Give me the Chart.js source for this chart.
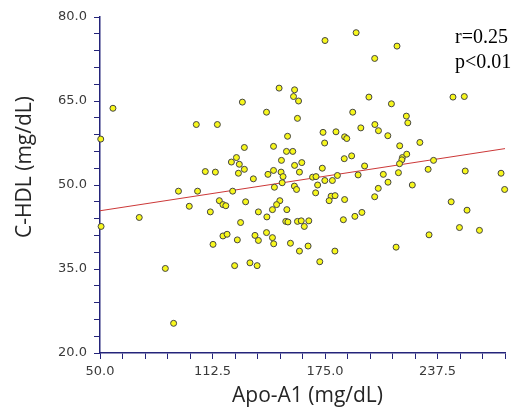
<!DOCTYPE html>
<html>
<head>
<meta charset="utf-8">
<script src="https://cdn.jsdelivr.net/npm/chart.js"></script>
<style>body{margin:0;background:#fff}</style>
</head>
<body>
<canvas id="myChart" width="517" height="415"></canvas>
<script>
// Apo-A1 vs C-HDL
const apoA1 = [57.2, 50.4, 103.5, 115.2, 129.1, 130.2, 108.5, 114.1, 123.0, 125.8,
  127.4, 130.2, 126.9, 149.5, 158.1, 157.5, 160.3, 142.5, 159.7, 154.2,
  146.4, 153.6, 157.1, 150.8, 158.1, 162.1, 146.4, 143.3, 150.6, 151.7,
  160.8, 175.0, 192.3, 215.0, 202.6, 199.4, 211.9, 246.1, 252.4, 190.4,
  220.2, 221.0, 194.9, 202.7, 204.7, 209.9, 173.9, 181.1, 174.8, 185.9,
  187.1, 216.5, 227.7, 185.7, 189.8, 173.5, 197.0, 218.0, 220.4, 217.7,
  216.4, 235.3, 232.3, 215.8, 207.4, 193.4, 181.9, 168.1, 170.0, 252.9,
  272.8, 135.2, 174.9, 179.1, 151.2, 146.9, 158.0, 159.2, 170.9, 169.8,
  204.6, 210.0, 223.5, 274.8, 93.6, 104.2, 123.7, 99.6,
  178.4, 180.6, 177.3, 185.9, 202.6, 245.1, 149.9, 148.1, 145.8, 153.8,
  253.9, 116.3, 118.3, 119.9, 130.9, 111.3, 138.0, 71.8, 50.6, 86.3, 90.9,
  142.7, 128.1, 153.2, 154.4, 159.7, 161.8, 163.5, 166.0, 185.2, 191.6,
  195.5, 118.3, 120.6, 126.3, 112.8, 136.1, 138.0, 142.5, 145.8, 146.5,
  155.8, 160.8, 165.6, 180.5, 172.1, 214.5, 232.8, 249.7, 260.8, 124.8, 133.3, 137.3]
const cHdl = [63.7, 58.2, 60.8, 60.8, 64.8, 56.7, 52.4, 52.3, 54.1, 54.9,
  53.7, 52.8, 52.1, 67.3, 67.0, 65.8, 65.0, 63.0, 61.9, 58.7,
  56.9, 56.0, 56.0, 54.4, 53.5, 54.0, 52.6, 51.9, 52.3, 51.5,
  52.3, 75.8, 77.2, 74.8, 72.6, 65.7, 64.5, 65.7, 65.8, 63.0,
  62.3, 61.1, 60.2, 60.8, 59.7, 58.8, 59.4, 59.5, 57.5, 58.6,
  58.3, 57.0, 57.6, 54.7, 55.2, 53.0, 53.4, 54.9, 55.5, 54.5,
  53.8, 54.4, 52.8, 52.2, 51.9, 51.8, 51.7, 51.4, 51.5, 52.5,
  52.1, 51.1, 50.8, 50.8, 50.4, 49.6, 49.8, 49.2, 50.0, 48.6,
  49.4, 50.5, 50.0, 49.2, 48.9, 48.9, 48.9, 46.2,
  48.0, 48.1, 47.2, 47.4, 47.9, 47.0, 47.2, 46.5, 45.6, 45.6,
  45.5, 47.2, 46.5, 46.3, 47.0, 45.2, 45.2, 44.2, 42.6, 35.1, 25.3,
  44.3, 43.3, 43.5, 43.4, 43.5, 43.6, 42.6, 43.6, 43.8, 44.4,
  45.1, 40.9, 41.2, 40.2, 39.4, 41.0, 40.1, 41.5, 40.6, 39.5,
  39.6, 38.2, 39.1, 38.2, 36.3, 38.9, 41.1, 42.4, 41.9, 35.6, 36.1, 35.6]

// regression line ends
const fitX = [50, 275]
const fitY = [45.4, 56.5]

// labelled ticks
const xLabels = [50, 112.5, 175, 237.5]
const yLabels = [20, 35, 50, 65, 80]

const statLines = ['r=0.25', 'p<0.01']

const navy = '#24247a'

const textPlugin = {
  id: 'textPlugin',
  afterDraw(chart) {
    const ctx = chart.ctx
    const area = chart.chartArea
    ctx.save()
    ctx.fillStyle = '#262626'
    ctx.font = '21px "Open Sans"'
    ctx.textAlign = 'center'
    ctx.textBaseline = 'middle'
    ctx.fillText('Apo-A1 (mg/dL)', (area.left + area.right) / 2 + 5, 396)
    ctx.save()
    ctx.translate(25, (area.top + area.bottom) / 2 - 18)
    ctx.rotate(-Math.PI / 2)
    ctx.fillText('C-HDL (mg/dL)', 0, 0)
    ctx.restore()
    ctx.fillStyle = '#000'
    ctx.font = '20px "Liberation Serif"'
    ctx.textAlign = 'left'
    ctx.textBaseline = 'alphabetic'
    for (let i = 0; i < statLines.length; i++) {
      ctx.fillText(statLines[i], 455, 43 + i * 25)
    }
    ctx.restore()
  }
}

const points = apoA1.map((x, i) => ({x: x, y: cHdl[i]}))
const fitPoints = fitX.map((x, i) => ({x: x, y: fitY[i]}))

new Chart(document.getElementById('myChart'), {
  type: 'scatter',
  data: {
    datasets: [{
      data: points,
      backgroundColor: '#f7f71c',
      borderColor: '#444444',
      borderWidth: 1,
      pointRadius: 3,
      clip: false,
      order: 1
    }, {
      type: 'line',
      data: fitPoints,
      borderColor: '#cc3838',
      borderWidth: 1,
      pointRadius: 0,
      fill: false,
      order: 2
    }]
  },
  options: {
    responsive: false,
    animation: false,
    layout: {padding: {top: 17, right: 12, left: 0, bottom: 0}},
    plugins: {legend: {display: false}, tooltip: {enabled: false}},
    scales: {
      x: {
        type: 'linear',
        min: 50,
        max: 275,
        afterFit: s => { s.height = 62 },
        border: {color: navy, width: 1.5},
        grid: {drawOnChartArea: false, color: navy, tickLength: 6},
        ticks: {
          stepSize: 12.5,
          autoSkip: false,
          maxRotation: 0,
          padding: 5,
          color: '#3a3a3a',
          font: {family: 'DejaVu Sans', size: 13},
          callback: v => xLabels.includes(v) ? v.toFixed(1) : ''
        }
      },
      y: {
        min: 20,
        max: 80,
        afterFit: s => { s.width = 100 },
        border: {color: navy, width: 1.5},
        grid: {drawOnChartArea: false, color: navy, tickLength: 6},
        ticks: {
          stepSize: 3,
          autoSkip: false,
          padding: 7,
          color: '#3a3a3a',
          font: {family: 'DejaVu Sans', size: 13},
          callback: v => yLabels.includes(v) ? v.toFixed(1) : ''
        }
      }
    }
  },
  plugins: [textPlugin]
})
</script>
</body>
</html>
